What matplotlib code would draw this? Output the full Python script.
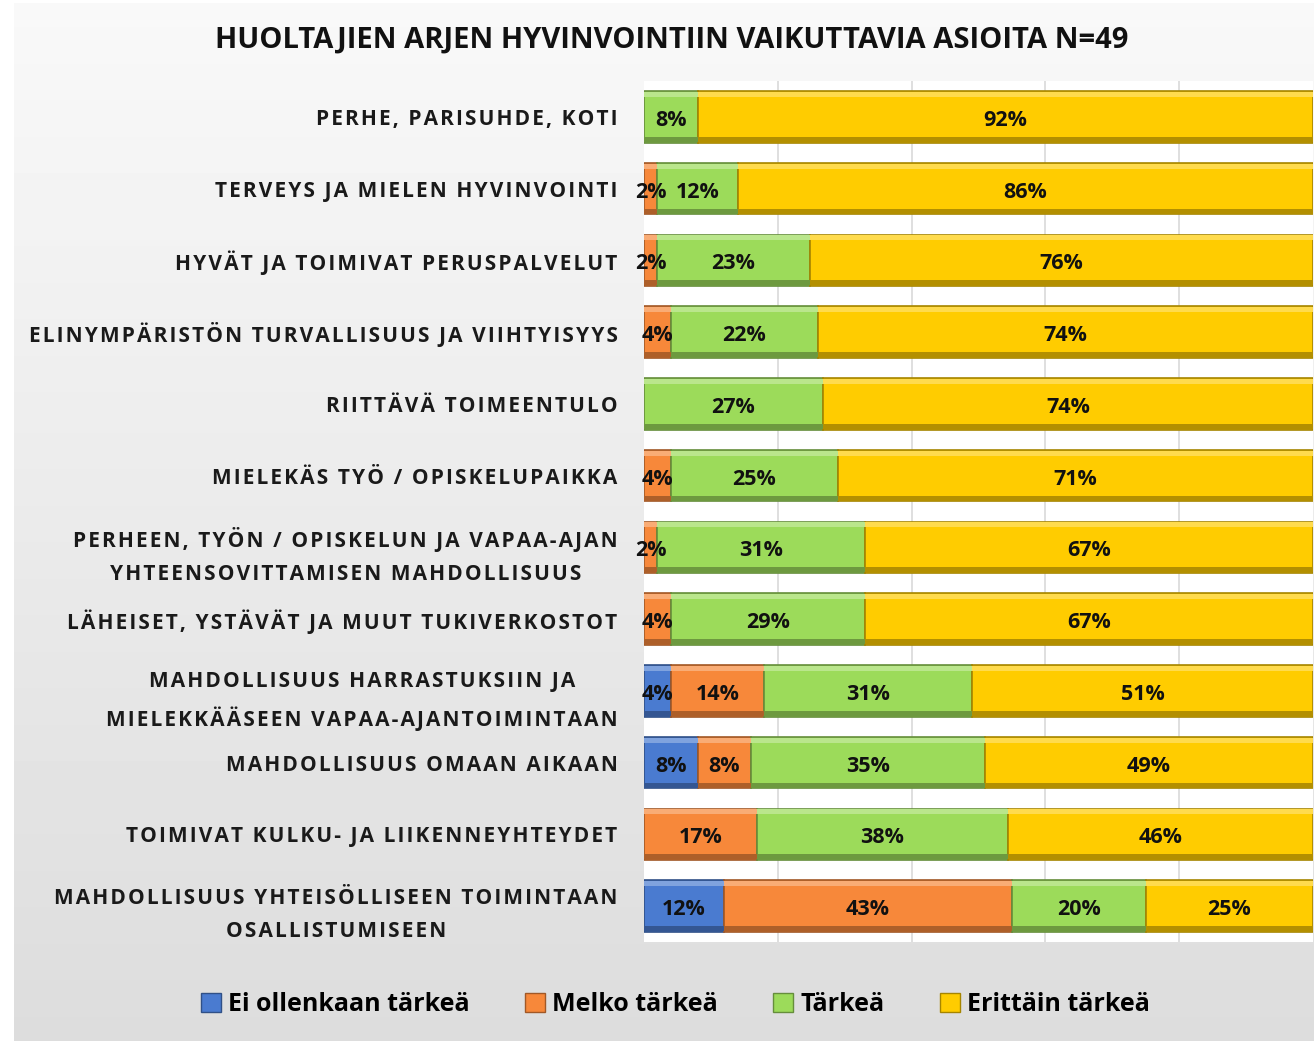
import numpy as np
import matplotlib
matplotlib.use("Agg")
import matplotlib.pyplot as plt
from matplotlib.colors import to_rgb
from matplotlib.patches import Rectangle

# data, top row first
categories = [
    "PERHE, PARISUHDE, KOTI",
    "TERVEYS JA MIELEN HYVINVOINTI",
    "HYVÄT JA TOIMIVAT PERUSPALVELUT",
    "ELINYMPÄRISTÖN TURVALLISUUS JA VIIHTYISYYS",
    "RIITTÄVÄ TOIMEENTULO",
    "MIELEKÄS TYÖ / OPISKELUPAIKKA",
    "PERHEEN, TYÖN / OPISKELUN JA VAPAA-AJAN\nYHTEENSOVITTAMISEN MAHDOLLISUUS",
    "LÄHEISET, YSTÄVÄT JA MUUT TUKIVERKOSTOT",
    "MAHDOLLISUUS HARRASTUKSIIN JA\nMIELEKKÄÄSEEN VAPAA-AJANTOIMINTAAN",
    "MAHDOLLISUUS OMAAN AIKAAN",
    "TOIMIVAT KULKU- JA LIIKENNEYHTEYDET",
    "MAHDOLLISUUS YHTEISÖLLISEEN TOIMINTAAN\nOSALLISTUMISEEN",
]
ei_ollenkaan = [0, 0, 0, 0, 0, 0, 0, 0, 4, 8, 0, 12]
melko = [0, 2, 2, 4, 0, 4, 2, 4, 14, 8, 17, 43]
tarkea = [8, 12, 23, 22, 27, 25, 31, 29, 31, 35, 38, 20]
erittain = [92, 86, 76, 74, 74, 71, 67, 67, 51, 49, 46, 25]

series_names = ["Ei ollenkaan tärkeä", "Melko tärkeä", "Tärkeä", "Erittäin tärkeä"]
colors = ["#4a7bd0", "#f7883a", "#9cdb5a", "#ffcc00"]

TITLE = "HUOLTAJIEN ARJEN HYVINVOINTIIN VAIKUTTAVIA ASIOITA N=49"
FONT = "Open Sans"
FONTS = [FONT, "DejaVu Sans"]
BAR_H = 0.72


def spaced(s):
    # letter spacing like the original, a hair space between characters
    return "\n".join("\u200a".join(line) for line in s.split("\n"))


def shade(c, f):
    r, g, b = to_rgb(c)
    if f > 0:
        return (r + (1 - r) * f, g + (1 - g) * f, b + (1 - b) * f)
    return (r * (1 + f), g * (1 + f), b * (1 + f))


def bevel_bar(ax, y, w, left, c):
    """one segment with a light top edge and a dark bottom edge"""
    ax.barh(y, w, left=left, height=BAR_H, color=c,
            edgecolor=shade(c, -0.35), linewidth=1.2, zorder=3)
    ax.barh(y - BAR_H / 2 + 0.045, w, left=left, height=0.07,
            color=shade(c, 0.3), linewidth=0, zorder=4)
    ax.barh(y + BAR_H / 2 - 0.045, w, left=left, height=0.07,
            color=shade(c, -0.3), linewidth=0, zorder=4)


fig = plt.figure(figsize=(13.14, 10.41), dpi=100)
fig.patch.set_facecolor("white")

# grey gradient background with a white strip at the left
bg = fig.add_axes([14 / 1314, 0, 1 - 14 / 1314, 1 - 3 / 1041], zorder=-10)
grad = np.linspace(0.975, 0.865, 256).reshape(-1, 1)
bg.imshow(np.repeat(grad, 2, axis=1), cmap="gray", vmin=0, vmax=1,
          aspect="auto", extent=[0, 1, 0, 1])
bg.set_axis_off()

ax = fig.add_axes([644 / 1314, 1 - 942 / 1041, 669 / 1314, 861 / 1041])
ax.set_facecolor("white")

data = np.array([ei_ollenkaan, melko, tarkea, erittain], dtype=float)
totals = data.sum(axis=0)
shares = data / totals * 100
y = np.arange(len(categories))

lefts = np.zeros(len(categories))
for k in range(4):
    for i in range(len(categories)):
        if data[k, i] > 0:
            bevel_bar(ax, y[i], shares[k, i], lefts[i], colors[k])
            ax.text(lefts[i] + shares[k, i] / 2, y[i] + 0.05, f"{int(data[k, i])}%",
                    ha="center", va="center", fontsize=15.5, fontweight="bold",
                    family=FONT, color="#111111", zorder=6)
    lefts += shares[k]

ax.set_xlim(0, 100)
ax.set_ylim(len(categories) - 0.5, -0.5)
ax.set_xticks([20, 40, 60, 80])
ax.set_xticklabels([])
ax.tick_params(axis="x", length=0)
ax.grid(axis="x", color="#d9d9d9", linewidth=1.2, zorder=0)
ax.set_axisbelow(True)
for s in ax.spines.values():
    s.set_visible(False)

ax.set_yticks(y)
ax.set_yticklabels([spaced(c) for c in categories], fontsize=15, fontweight="bold",
                   family=FONTS, color="#1a1a1a", multialignment="center",
                   linespacing=1.75)
ax.tick_params(axis="y", length=0, pad=19)

fig.text(0.511, 0.9616, TITLE, ha="center", va="center", fontsize=21,
         fontweight="bold", family=FONT, color="#111111")

handles = [Rectangle((0, 0), 1, 1, facecolor=c, edgecolor=shade(c, -0.35))
           for c in colors]
leg = fig.legend(handles, series_names, loc="center", bbox_to_anchor=(0.514, 0.035),
                 ncol=4, frameon=False, handlelength=0.8, handleheight=0.8,
                 handletextpad=0.3, columnspacing=2.2,
                 prop={"family": FONT, "weight": "bold", "size": 18})

fig.savefig("out.png", dpi=100)
